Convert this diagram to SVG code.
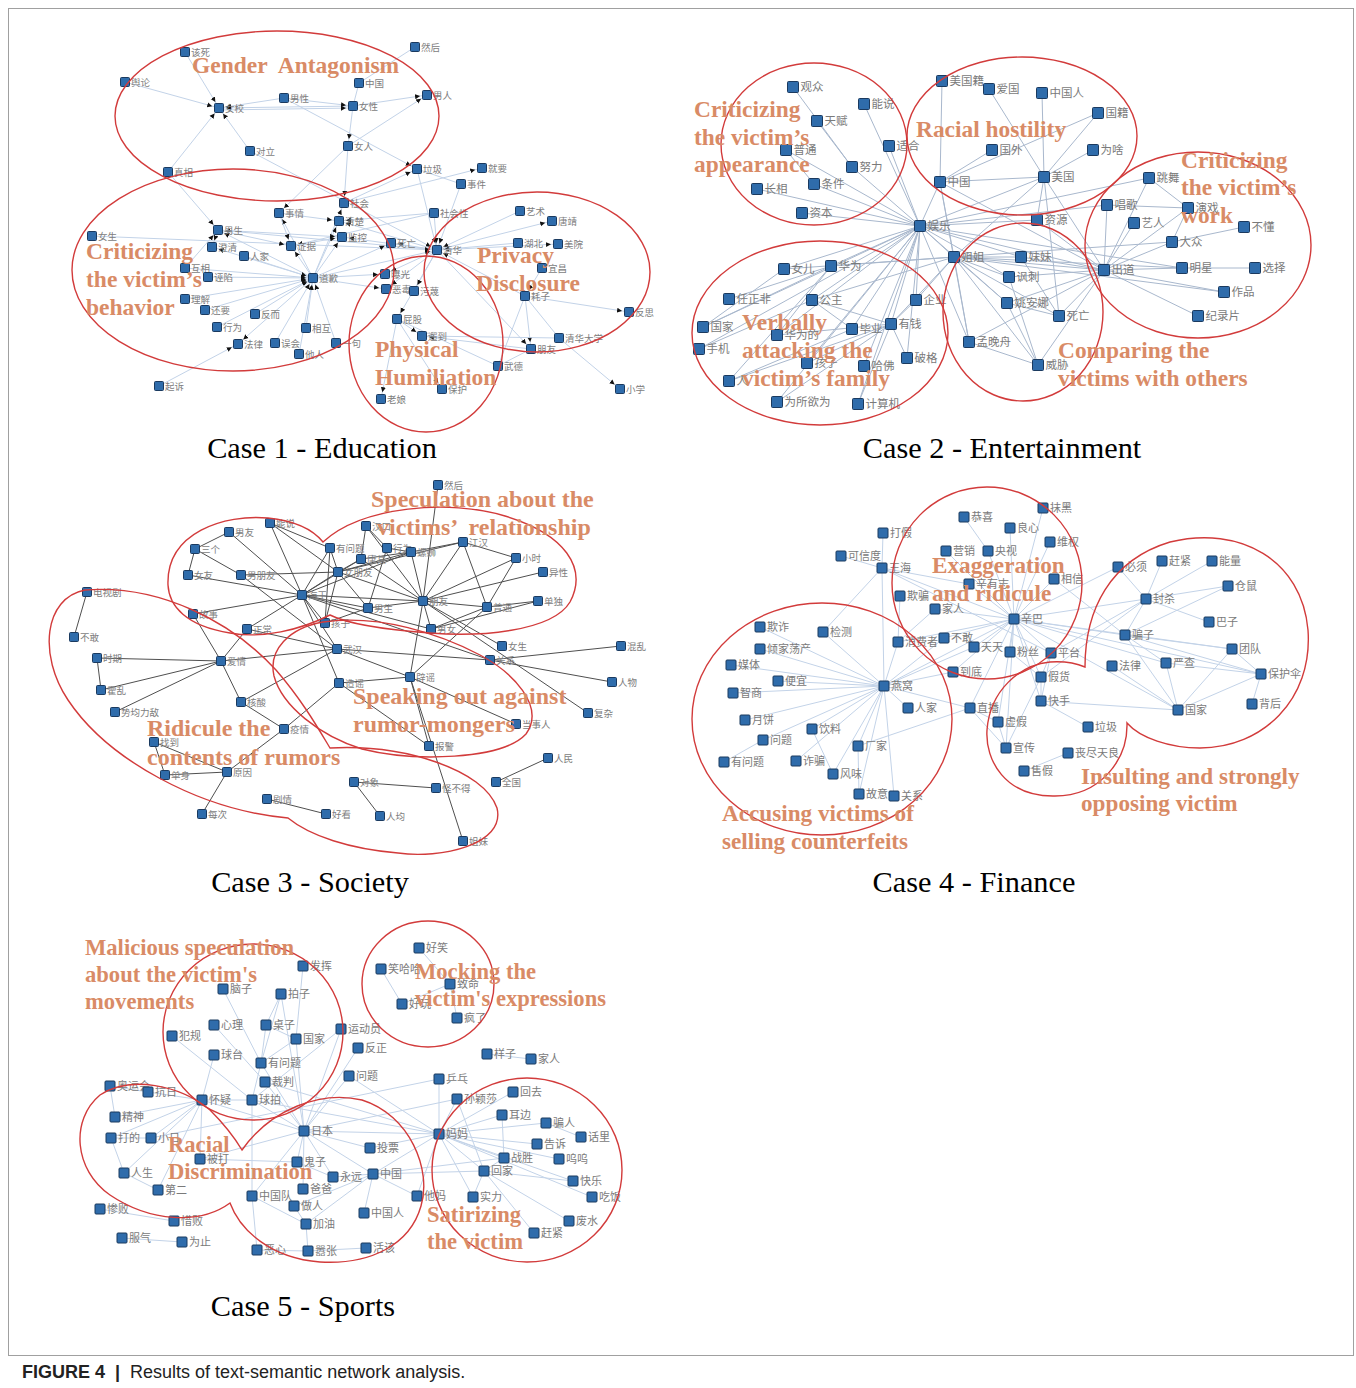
<svg xmlns="http://www.w3.org/2000/svg" xmlns:xlink="http://www.w3.org/1999/xlink" width="1356" height="1388" viewBox="0 0 1356 1388">
<style>
.frame{fill:none;stroke:#a0a0a0;stroke-width:1}
.ring{fill:none;stroke:#d23b3b;stroke-width:1.4}
.lab{font-family:"Liberation Serif","Times New Roman",serif;font-weight:bold;font-size:24px;fill:#d98b66}
.g1 .lab{font-size:23.5px}
.g2 .lab{font-size:23.4px}
.g3 .lab{font-size:24px}
.g4 .lab{font-size:23.2px}
.g5 .lab{font-size:22.6px}
.ttl{font-family:"Liberation Serif","Times New Roman",serif;font-size:30.3px;fill:#000;text-anchor:middle}
.cap{font-family:"Liberation Sans",Arial,sans-serif;font-size:18px;fill:#222}
.t1 text,.t3 text{font-family:"Noto Sans CJK SC","Noto Sans",sans-serif;font-size:9.5px;fill:#7d7d7d}
.t2 text{font-family:"Noto Sans CJK SC","Noto Sans",sans-serif;font-size:11.5px;fill:#7a7a7a}
.t4 text,.t5 text{font-family:"Noto Sans CJK SC","Noto Sans",sans-serif;font-size:11px;fill:#7a7a7a}
.e1 line,.e4 line,.e5 line{stroke:#c3d3e8;stroke-width:1}
.e2 line{stroke:#a9b8cd;stroke-width:1}
.e3 line{stroke:#4f4f4f;stroke-width:1}
</style>
<defs>
<rect id="s9" x="-4.5" y="-4.5" width="9" height="9" rx="1" fill="#2f6cab" stroke="#1b3a5f" stroke-width="1"/>
<rect id="s10" x="-5" y="-5" width="10" height="10" rx="1" fill="#2f6cab" stroke="#1b3a5f" stroke-width="1"/>
<rect id="s11" x="-5.5" y="-5.5" width="11" height="11" rx="1" fill="#2f6cab" stroke="#1b3a5f" stroke-width="1"/>
<marker id="ah" viewBox="0 0 14 8" refX="12" refY="4" markerWidth="14" markerHeight="8" markerUnits="userSpaceOnUse" orient="auto"><path d="M0,1.5 L5,4 L0,6.5 Z" fill="#111"/></marker>
</defs>
<rect width="1356" height="1388" fill="#fff"/>
<rect class="frame" x="8.5" y="8.5" width="1345" height="1347"/>

<!-- ================= CASE 1 ================= -->
<g id="edges-c1" class="e1">
<line x1="185" y1="52" x2="219" y2="108" marker-end="url(#ah)"/>
<line x1="125" y1="82" x2="219" y2="108" marker-end="url(#ah)"/>
<line x1="284" y1="98" x2="219" y2="108" marker-end="url(#ah)"/>
<line x1="353" y1="106" x2="219" y2="108" marker-end="url(#ah)"/>
<line x1="219" y1="110" x2="353" y2="108" marker-end="url(#ah)"/>
<line x1="284" y1="98" x2="353" y2="106" marker-end="url(#ah)"/>
<line x1="359" y1="83" x2="353" y2="106"/>
<line x1="353" y1="106" x2="427" y2="95" marker-end="url(#ah)"/>
<line x1="348" y1="146" x2="427" y2="95" marker-end="url(#ah)"/>
<line x1="353" y1="106" x2="348" y2="146" marker-end="url(#ah)"/>
<line x1="250" y1="151" x2="219" y2="108" marker-end="url(#ah)"/>
<line x1="168" y1="172" x2="219" y2="108" marker-end="url(#ah)"/>
<line x1="284" y1="98" x2="417" y2="169" marker-end="url(#ah)"/>
<line x1="250" y1="151" x2="437" y2="250" marker-end="url(#ah)"/>
<line x1="348" y1="146" x2="279" y2="213" marker-end="url(#ah)"/>
<line x1="348" y1="146" x2="344" y2="203" marker-end="url(#ah)"/>
<line x1="168" y1="172" x2="218" y2="230" marker-end="url(#ah)"/>
<line x1="415" y1="47" x2="359" y2="83"/>
<line x1="417" y1="169" x2="437" y2="250" marker-end="url(#ah)"/>
<line x1="344" y1="203" x2="417" y2="169" marker-end="url(#ah)"/>
<line x1="344" y1="203" x2="482" y2="168" marker-end="url(#ah)"/>
<line x1="417" y1="169" x2="461" y2="184"/>
<line x1="461" y1="184" x2="437" y2="250" marker-end="url(#ah)"/>
<line x1="434" y1="213" x2="437" y2="250" marker-end="url(#ah)"/>
<line x1="434" y1="213" x2="339" y2="221" marker-end="url(#ah)"/>
<line x1="434" y1="213" x2="291" y2="246" marker-end="url(#ah)"/>
<line x1="520" y1="211" x2="437" y2="250" marker-end="url(#ah)"/>
<line x1="437" y1="250" x2="552" y2="221" marker-end="url(#ah)"/>
<line x1="518" y1="243" x2="437" y2="250" marker-end="url(#ah)"/>
<line x1="437" y1="250" x2="558" y2="244" marker-end="url(#ah)"/>
<line x1="525" y1="296" x2="437" y2="250" marker-end="url(#ah)"/>
<line x1="525" y1="296" x2="629" y2="312" marker-end="url(#ah)"/>
<line x1="525" y1="296" x2="531" y2="349" marker-end="url(#ah)"/>
<line x1="525" y1="296" x2="559" y2="338"/>
<line x1="525" y1="296" x2="498" y2="366"/>
<line x1="542" y1="268" x2="525" y2="296" marker-end="url(#ah)"/>
<line x1="531" y1="349" x2="422" y2="336" marker-end="url(#ah)"/>
<line x1="422" y1="336" x2="559" y2="338"/>
<line x1="559" y1="338" x2="620" y2="389" marker-end="url(#ah)"/>
<line x1="531" y1="349" x2="498" y2="366"/>
<line x1="397" y1="319" x2="498" y2="366"/>
<line x1="397" y1="319" x2="442" y2="389" marker-end="url(#ah)"/>
<line x1="397" y1="319" x2="381" y2="399" marker-end="url(#ah)"/>
<line x1="437" y1="250" x2="397" y2="319" marker-end="url(#ah)"/>
<line x1="437" y1="250" x2="414" y2="291" marker-end="url(#ah)"/>
<line x1="437" y1="250" x2="385" y2="274" marker-end="url(#ah)"/>
<line x1="437" y1="250" x2="386" y2="289" marker-end="url(#ah)"/>
<line x1="437" y1="250" x2="391" y2="243" marker-end="url(#ah)"/>
<line x1="437" y1="250" x2="342" y2="237" marker-end="url(#ah)"/>
<line x1="437" y1="250" x2="339" y2="221" marker-end="url(#ah)"/>
<line x1="437" y1="250" x2="218" y2="230" marker-end="url(#ah)"/>
<line x1="92" y1="236" x2="437" y2="250" marker-end="url(#ah)"/>
<line x1="437" y1="250" x2="531" y2="349" marker-end="url(#ah)"/>
<line x1="313" y1="278" x2="218" y2="230" marker-end="url(#ah)"/>
<line x1="313" y1="278" x2="212" y2="247" marker-end="url(#ah)"/>
<line x1="244" y1="256" x2="313" y2="278" marker-end="url(#ah)"/>
<line x1="313" y1="278" x2="291" y2="246" marker-end="url(#ah)"/>
<line x1="185" y1="268" x2="313" y2="278" marker-end="url(#ah)"/>
<line x1="208" y1="277" x2="313" y2="278" marker-end="url(#ah)"/>
<line x1="185" y1="299" x2="313" y2="278" marker-end="url(#ah)"/>
<line x1="205" y1="310" x2="313" y2="278" marker-end="url(#ah)"/>
<line x1="255" y1="314" x2="313" y2="278" marker-end="url(#ah)"/>
<line x1="217" y1="327" x2="313" y2="278" marker-end="url(#ah)"/>
<line x1="313" y1="278" x2="238" y2="344" marker-end="url(#ah)"/>
<line x1="275" y1="343" x2="313" y2="278" marker-end="url(#ah)"/>
<line x1="306" y1="328" x2="313" y2="278" marker-end="url(#ah)"/>
<line x1="299" y1="354" x2="313" y2="278" marker-end="url(#ah)"/>
<line x1="336" y1="343" x2="313" y2="278" marker-end="url(#ah)"/>
<line x1="313" y1="278" x2="342" y2="237" marker-end="url(#ah)"/>
<line x1="313" y1="278" x2="339" y2="221" marker-end="url(#ah)"/>
<line x1="313" y1="278" x2="279" y2="213" marker-end="url(#ah)"/>
<line x1="313" y1="278" x2="391" y2="243" marker-end="url(#ah)"/>
<line x1="313" y1="278" x2="437" y2="250" marker-end="url(#ah)"/>
<line x1="313" y1="278" x2="385" y2="274" marker-end="url(#ah)"/>
<line x1="313" y1="278" x2="386" y2="289" marker-end="url(#ah)"/>
<line x1="313" y1="278" x2="344" y2="203" marker-end="url(#ah)"/>
<line x1="159" y1="386" x2="238" y2="344" marker-end="url(#ah)"/>
<line x1="218" y1="230" x2="212" y2="247" marker-end="url(#ah)"/>
<line x1="218" y1="230" x2="291" y2="246" marker-end="url(#ah)"/>
<line x1="218" y1="230" x2="342" y2="237" marker-end="url(#ah)"/>
<line x1="279" y1="213" x2="339" y2="221" marker-end="url(#ah)"/>
<line x1="279" y1="213" x2="291" y2="246" marker-end="url(#ah)"/>
<line x1="291" y1="246" x2="342" y2="237" marker-end="url(#ah)"/>
<line x1="185" y1="268" x2="218" y2="230" marker-end="url(#ah)"/>
<line x1="397" y1="319" x2="422" y2="336" marker-end="url(#ah)"/>
</g>
<g id="nodes-c1" class="t1">
<g id="c1-01" transform="translate(185,52)"><use href="#s9"/><text x="6" y="3.5">该死</text></g>
<g id="c1-02" transform="translate(125,82)"><use href="#s9"/><text x="6" y="3.5">舆论</text></g>
<g id="c1-03" transform="translate(219,108)"><use href="#s9"/><text x="6" y="3.5">女校</text></g>
<g id="c1-04" transform="translate(284,98)"><use href="#s9"/><text x="6" y="3.5">男性</text></g>
<g id="c1-05" transform="translate(353,106)"><use href="#s9"/><text x="6" y="3.5">女性</text></g>
<g id="c1-06" transform="translate(359,83)"><use href="#s9"/><text x="6" y="3.5">中国</text></g>
<g id="c1-07" transform="translate(348,146)"><use href="#s9"/><text x="6" y="3.5">女人</text></g>
<g id="c1-08" transform="translate(250,151)"><use href="#s9"/><text x="6" y="3.5">对立</text></g>
<g id="c1-09" transform="translate(168,172)"><use href="#s9"/><text x="6" y="3.5">真相</text></g>
<g id="c1-10" transform="translate(344,203)"><use href="#s9"/><text x="6" y="3.5">社会</text></g>
<g id="c1-11" transform="translate(279,213)"><use href="#s9"/><text x="6" y="3.5">事情</text></g>
<g id="c1-12" transform="translate(339,221)"><use href="#s9"/><text x="6" y="3.5">清楚</text></g>
<g id="c1-13" transform="translate(415,47)"><use href="#s9"/><text x="6" y="3.5">然后</text></g>
<g id="c1-14" transform="translate(427,95)"><use href="#s9"/><text x="6" y="3.5">男人</text></g>
<g id="c1-15" transform="translate(417,169)"><use href="#s9"/><text x="6" y="3.5">垃圾</text></g>
<g id="c1-16" transform="translate(482,168)"><use href="#s9"/><text x="6" y="3.5">就要</text></g>
<g id="c1-17" transform="translate(461,184)"><use href="#s9"/><text x="6" y="3.5">事件</text></g>
<g id="c1-18" transform="translate(434,213)"><use href="#s9"/><text x="6" y="3.5">社会性</text></g>
<g id="c1-19" transform="translate(520,211)"><use href="#s9"/><text x="6" y="3.5">艺术</text></g>
<g id="c1-20" transform="translate(552,221)"><use href="#s9"/><text x="6" y="3.5">唐靖</text></g>
<g id="c1-21" transform="translate(92,236)"><use href="#s9"/><text x="6" y="3.5">女生</text></g>
<g id="c1-22" transform="translate(218,230)"><use href="#s9"/><text x="6" y="3.5">男生</text></g>
<g id="c1-23" transform="translate(212,247)"><use href="#s9"/><text x="6" y="3.5">澄清</text></g>
<g id="c1-24" transform="translate(244,256)"><use href="#s9"/><text x="6" y="3.5">人家</text></g>
<g id="c1-25" transform="translate(291,246)"><use href="#s9"/><text x="6" y="3.5">证据</text></g>
<g id="c1-26" transform="translate(342,237)"><use href="#s9"/><text x="6" y="3.5">监控</text></g>
<g id="c1-27" transform="translate(185,268)"><use href="#s9"/><text x="6" y="3.5">互相</text></g>
<g id="c1-28" transform="translate(208,277)"><use href="#s9"/><text x="6" y="3.5">诬陷</text></g>
<g id="c1-29" transform="translate(313,278)"><use href="#s9"/><text x="6" y="3.5">道歉</text></g>
<g id="c1-30" transform="translate(185,299)"><use href="#s9"/><text x="6" y="3.5">理解</text></g>
<g id="c1-31" transform="translate(205,310)"><use href="#s9"/><text x="6" y="3.5">还要</text></g>
<g id="c1-32" transform="translate(255,314)"><use href="#s9"/><text x="6" y="3.5">反而</text></g>
<g id="c1-33" transform="translate(217,327)"><use href="#s9"/><text x="6" y="3.5">行为</text></g>
<g id="c1-34" transform="translate(306,328)"><use href="#s9"/><text x="6" y="3.5">相互</text></g>
<g id="c1-35" transform="translate(238,344)"><use href="#s9"/><text x="6" y="3.5">法律</text></g>
<g id="c1-36" transform="translate(275,343)"><use href="#s9"/><text x="6" y="3.5">误会</text></g>
<g id="c1-37" transform="translate(299,354)"><use href="#s9"/><text x="6" y="3.5">他人</text></g>
<g id="c1-38" transform="translate(336,343)"><use href="#s9"/><text x="6" y="3.5">一句</text></g>
<g id="c1-39" transform="translate(159,386)"><use href="#s9"/><text x="6" y="3.5">起诉</text></g>
<g id="c1-40" transform="translate(391,243)"><use href="#s9"/><text x="6" y="3.5">死亡</text></g>
<g id="c1-41" transform="translate(437,250)"><use href="#s9"/><text x="6" y="3.5">清华</text></g>
<g id="c1-42" transform="translate(518,243)"><use href="#s9"/><text x="6" y="3.5">湖北</text></g>
<g id="c1-43" transform="translate(558,244)"><use href="#s9"/><text x="6" y="3.5">美院</text></g>
<g id="c1-44" transform="translate(542,268)"><use href="#s9"/><text x="6" y="3.5">宜昌</text></g>
<g id="c1-45" transform="translate(385,274)"><use href="#s9"/><text x="6" y="3.5">曝光</text></g>
<g id="c1-46" transform="translate(386,289)"><use href="#s9"/><text x="6" y="3.5">恶毒</text></g>
<g id="c1-47" transform="translate(414,291)"><use href="#s9"/><text x="6" y="3.5">污蔑</text></g>
<g id="c1-48" transform="translate(525,296)"><use href="#s9"/><text x="6" y="3.5">耗子</text></g>
<g id="c1-49" transform="translate(629,312)"><use href="#s9"/><text x="6" y="3.5">反思</text></g>
<g id="c1-50" transform="translate(397,319)"><use href="#s9"/><text x="6" y="3.5">屁股</text></g>
<g id="c1-51" transform="translate(422,336)"><use href="#s9"/><text x="6" y="3.5">遛到</text></g>
<g id="c1-52" transform="translate(559,338)"><use href="#s9"/><text x="6" y="3.5">清华大学</text></g>
<g id="c1-53" transform="translate(531,349)"><use href="#s9"/><text x="6" y="3.5">朋友</text></g>
<g id="c1-54" transform="translate(498,366)"><use href="#s9"/><text x="6" y="3.5">武德</text></g>
<g id="c1-55" transform="translate(442,389)"><use href="#s9"/><text x="6" y="3.5">保护</text></g>
<g id="c1-56" transform="translate(381,399)"><use href="#s9"/><text x="6" y="3.5">老娘</text></g>
<g id="c1-57" transform="translate(620,389)"><use href="#s9"/><text x="6" y="3.5">小学</text></g>
</g>
<g id="groups-c1" class="g1">
<ellipse class="ring" cx="277" cy="116" rx="162" ry="85"/>
<ellipse class="ring" cx="233" cy="270" rx="161" ry="101"/>
<ellipse class="ring" cx="426" cy="344" rx="77" ry="88"/>
<ellipse class="ring" cx="537" cy="272" rx="113" ry="80"/>
<text class="lab" x="192" y="73" xml:space="preserve">Gender  Antagonism</text>
<text class="lab" x="86" y="259">Criticizing</text>
<text class="lab" x="86" y="287">the victim’s</text>
<text class="lab" x="86" y="315">behavior</text>
<text class="lab" x="375" y="357">Physical</text>
<text class="lab" x="375" y="385">Humiliation</text>
<text class="lab" x="477" y="263">Privacy</text>
<text class="lab" x="476" y="291">Disclosure</text>
</g>
<text class="ttl" x="322" y="458">Case 1 - Education</text>

<!-- ================= CASE 2 ================= -->
<g id="edges-c2" class="e2">
<line x1="793" y1="87" x2="852" y2="167"/>
<line x1="817" y1="121" x2="852" y2="167"/>
<line x1="786" y1="150" x2="920" y2="226"/>
<line x1="786" y1="150" x2="814" y2="184"/>
<line x1="864" y1="104" x2="920" y2="226"/>
<line x1="889" y1="146" x2="920" y2="226"/>
<line x1="852" y1="167" x2="920" y2="226"/>
<line x1="814" y1="184" x2="920" y2="226"/>
<line x1="757" y1="189" x2="920" y2="226"/>
<line x1="802" y1="213" x2="920" y2="226"/>
<line x1="942" y1="81" x2="940" y2="182"/>
<line x1="989" y1="89" x2="1044" y2="177"/>
<line x1="1042" y1="93" x2="1044" y2="177"/>
<line x1="1098" y1="113" x2="1044" y2="177"/>
<line x1="1098" y1="113" x2="940" y2="182"/>
<line x1="1093" y1="150" x2="1044" y2="177"/>
<line x1="992" y1="150" x2="940" y2="182"/>
<line x1="940" y1="182" x2="920" y2="226"/>
<line x1="940" y1="182" x2="954" y2="257"/>
<line x1="940" y1="182" x2="969" y2="342"/>
<line x1="940" y1="182" x2="1044" y2="177"/>
<line x1="940" y1="182" x2="1104" y2="270"/>
<line x1="1044" y1="177" x2="920" y2="226"/>
<line x1="1044" y1="177" x2="954" y2="257"/>
<line x1="1044" y1="177" x2="1104" y2="270"/>
<line x1="1044" y1="177" x2="1059" y2="316"/>
<line x1="1044" y1="177" x2="1037" y2="220"/>
<line x1="920" y1="226" x2="784" y2="269"/>
<line x1="920" y1="226" x2="831" y2="266"/>
<line x1="920" y1="226" x2="812" y2="300"/>
<line x1="920" y1="226" x2="916" y2="300"/>
<line x1="920" y1="226" x2="852" y2="329"/>
<line x1="920" y1="226" x2="891" y2="324"/>
<line x1="920" y1="226" x2="864" y2="366"/>
<line x1="920" y1="226" x2="807" y2="363"/>
<line x1="920" y1="226" x2="858" y2="404"/>
<line x1="920" y1="226" x2="969" y2="342"/>
<line x1="920" y1="226" x2="954" y2="257"/>
<line x1="920" y1="226" x2="1021" y2="257"/>
<line x1="920" y1="226" x2="1009" y2="277"/>
<line x1="920" y1="226" x2="1007" y2="303"/>
<line x1="920" y1="226" x2="1104" y2="270"/>
<line x1="920" y1="226" x2="1037" y2="220"/>
<line x1="920" y1="226" x2="1149" y2="178"/>
<line x1="920" y1="226" x2="1107" y2="205"/>
<line x1="920" y1="226" x2="1182" y2="268"/>
<line x1="920" y1="226" x2="703" y2="327"/>
<line x1="920" y1="226" x2="777" y2="335"/>
<line x1="920" y1="226" x2="777" y2="402"/>
<line x1="920" y1="226" x2="907" y2="358"/>
<line x1="920" y1="226" x2="699" y2="349"/>
<line x1="954" y1="257" x2="1021" y2="257"/>
<line x1="954" y1="257" x2="1009" y2="277"/>
<line x1="954" y1="257" x2="1007" y2="303"/>
<line x1="954" y1="257" x2="1059" y2="316"/>
<line x1="954" y1="257" x2="1038" y2="365"/>
<line x1="954" y1="257" x2="969" y2="342"/>
<line x1="954" y1="257" x2="1104" y2="270"/>
<line x1="954" y1="257" x2="1182" y2="268"/>
<line x1="954" y1="257" x2="831" y2="266"/>
<line x1="954" y1="257" x2="812" y2="300"/>
<line x1="954" y1="257" x2="891" y2="324"/>
<line x1="954" y1="257" x2="916" y2="300"/>
<line x1="954" y1="257" x2="784" y2="269"/>
<line x1="954" y1="257" x2="1172" y2="242"/>
<line x1="954" y1="257" x2="1224" y2="292"/>
<line x1="831" y1="266" x2="729" y2="299"/>
<line x1="831" y1="266" x2="703" y2="327"/>
<line x1="831" y1="266" x2="777" y2="335"/>
<line x1="831" y1="266" x2="729" y2="381"/>
<line x1="812" y1="300" x2="699" y2="349"/>
<line x1="812" y1="300" x2="852" y2="329"/>
<line x1="812" y1="300" x2="891" y2="324"/>
<line x1="784" y1="269" x2="703" y2="327"/>
<line x1="777" y1="335" x2="891" y2="324"/>
<line x1="807" y1="363" x2="891" y2="324"/>
<line x1="729" y1="381" x2="852" y2="329"/>
<line x1="729" y1="381" x2="891" y2="324"/>
<line x1="777" y1="402" x2="891" y2="324"/>
<line x1="858" y1="404" x2="891" y2="324"/>
<line x1="907" y1="358" x2="891" y2="324"/>
<line x1="891" y1="324" x2="916" y2="300"/>
<line x1="1104" y1="270" x2="1149" y2="178"/>
<line x1="1104" y1="270" x2="1107" y2="205"/>
<line x1="1104" y1="270" x2="1134" y2="223"/>
<line x1="1104" y1="270" x2="1172" y2="242"/>
<line x1="1104" y1="270" x2="1182" y2="268"/>
<line x1="1104" y1="270" x2="1224" y2="292"/>
<line x1="1104" y1="270" x2="1198" y2="316"/>
<line x1="1104" y1="270" x2="1188" y2="208"/>
<line x1="1104" y1="270" x2="1059" y2="316"/>
<line x1="1104" y1="270" x2="1038" y2="365"/>
<line x1="1104" y1="270" x2="1007" y2="303"/>
<line x1="1104" y1="270" x2="1009" y2="277"/>
<line x1="1104" y1="270" x2="1021" y2="257"/>
<line x1="1104" y1="270" x2="1037" y2="220"/>
<line x1="1104" y1="270" x2="969" y2="342"/>
<line x1="1149" y1="178" x2="1188" y2="208"/>
<line x1="1107" y1="205" x2="1188" y2="208"/>
<line x1="1172" y1="242" x2="1244" y2="227"/>
<line x1="1182" y1="268" x2="1255" y2="268"/>
<line x1="1188" y1="208" x2="1172" y2="242"/>
<line x1="969" y1="342" x2="1038" y2="365"/>
<line x1="1007" y1="303" x2="1038" y2="365"/>
<line x1="1009" y1="277" x2="1038" y2="365"/>
<line x1="1021" y1="257" x2="1059" y2="316"/>
<line x1="1007" y1="303" x2="1059" y2="316"/>
</g>
<g id="nodes-c2" class="t2">
<g id="c2-01" transform="translate(793,87)"><use href="#s11"/><text x="7.5" y="4">观众</text></g>
<g id="c2-02" transform="translate(864,104)"><use href="#s11"/><text x="7.5" y="4">能说</text></g>
<g id="c2-03" transform="translate(817,121)"><use href="#s11"/><text x="7.5" y="4">天赋</text></g>
<g id="c2-04" transform="translate(786,150)"><use href="#s11"/><text x="7.5" y="4">普通</text></g>
<g id="c2-05" transform="translate(889,146)"><use href="#s11"/><text x="7.5" y="4">适合</text></g>
<g id="c2-06" transform="translate(852,167)"><use href="#s11"/><text x="7.5" y="4">努力</text></g>
<g id="c2-07" transform="translate(814,184)"><use href="#s11"/><text x="7.5" y="4">条件</text></g>
<g id="c2-08" transform="translate(757,189)"><use href="#s11"/><text x="7.5" y="4">长相</text></g>
<g id="c2-09" transform="translate(802,213)"><use href="#s11"/><text x="7.5" y="4">资本</text></g>
<g id="c2-10" transform="translate(942,81)"><use href="#s11"/><text x="7.5" y="4">美国籍</text></g>
<g id="c2-11" transform="translate(989,89)"><use href="#s11"/><text x="7.5" y="4">爱国</text></g>
<g id="c2-12" transform="translate(992,150)"><use href="#s11"/><text x="7.5" y="4">国外</text></g>
<g id="c2-13" transform="translate(940,182)"><use href="#s11"/><text x="7.5" y="4">中国</text></g>
<g id="c2-14" transform="translate(920,226)"><use href="#s11"/><text x="7.5" y="4">娱乐</text></g>
<g id="c2-15" transform="translate(954,257)"><use href="#s11"/><text x="7.5" y="4">姐姐</text></g>
<g id="c2-16" transform="translate(784,269)"><use href="#s11"/><text x="7.5" y="4">女儿</text></g>
<g id="c2-17" transform="translate(831,266)"><use href="#s11"/><text x="7.5" y="4">华为</text></g>
<g id="c2-18" transform="translate(729,299)"><use href="#s11"/><text x="7.5" y="4">任正非</text></g>
<g id="c2-19" transform="translate(812,300)"><use href="#s11"/><text x="7.5" y="4">公主</text></g>
<g id="c2-20" transform="translate(916,300)"><use href="#s11"/><text x="7.5" y="4">企业</text></g>
<g id="c2-21" transform="translate(703,327)"><use href="#s11"/><text x="7.5" y="4">国家</text></g>
<g id="c2-22" transform="translate(777,335)"><use href="#s11"/><text x="7.5" y="4">华为的</text></g>
<g id="c2-23" transform="translate(852,329)"><use href="#s11"/><text x="7.5" y="4">毕业</text></g>
<g id="c2-24" transform="translate(891,324)"><use href="#s11"/><text x="7.5" y="4">有钱</text></g>
<g id="c2-25" transform="translate(699,349)"><use href="#s11"/><text x="7.5" y="4">手机</text></g>
<g id="c2-26" transform="translate(807,363)"><use href="#s11"/><text x="7.5" y="4">孩子</text></g>
<g id="c2-27" transform="translate(864,366)"><use href="#s11"/><text x="7.5" y="4">哈佛</text></g>
<g id="c2-28" transform="translate(907,358)"><use href="#s11"/><text x="7.5" y="4">破格</text></g>
<g id="c2-29" transform="translate(729,381)"><use href="#s11"/><text x="7.5" y="4">人</text></g>
<g id="c2-30" transform="translate(777,402)"><use href="#s11"/><text x="7.5" y="4">为所欲为</text></g>
<g id="c2-31" transform="translate(858,404)"><use href="#s11"/><text x="7.5" y="4">计算机</text></g>
<g id="c2-32" transform="translate(969,342)"><use href="#s11"/><text x="7.5" y="4">孟晚舟</text></g>
<g id="c2-33" transform="translate(1042,93)"><use href="#s11"/><text x="7.5" y="4">中国人</text></g>
<g id="c2-34" transform="translate(1098,113)"><use href="#s11"/><text x="7.5" y="4">国籍</text></g>
<g id="c2-35" transform="translate(1093,150)"><use href="#s11"/><text x="7.5" y="4">为啥</text></g>
<g id="c2-36" transform="translate(1044,177)"><use href="#s11"/><text x="7.5" y="4">美国</text></g>
<g id="c2-37" transform="translate(1149,178)"><use href="#s11"/><text x="7.5" y="4">跳舞</text></g>
<g id="c2-38" transform="translate(1107,205)"><use href="#s11"/><text x="7.5" y="4">唱歌</text></g>
<g id="c2-39" transform="translate(1188,208)"><use href="#s11"/><text x="7.5" y="4">演戏</text></g>
<g id="c2-40" transform="translate(1037,220)"><use href="#s11"/><text x="7.5" y="4">资源</text></g>
<g id="c2-41" transform="translate(1134,223)"><use href="#s11"/><text x="7.5" y="4">艺人</text></g>
<g id="c2-42" transform="translate(1244,227)"><use href="#s11"/><text x="7.5" y="4">不懂</text></g>
<g id="c2-43" transform="translate(1172,242)"><use href="#s11"/><text x="7.5" y="4">大众</text></g>
<g id="c2-44" transform="translate(1021,257)"><use href="#s11"/><text x="7.5" y="4">妹妹</text></g>
<g id="c2-45" transform="translate(1009,277)"><use href="#s11"/><text x="7.5" y="4">讽刺</text></g>
<g id="c2-46" transform="translate(1104,270)"><use href="#s11"/><text x="7.5" y="4">出道</text></g>
<g id="c2-47" transform="translate(1182,268)"><use href="#s11"/><text x="7.5" y="4">明星</text></g>
<g id="c2-48" transform="translate(1255,268)"><use href="#s11"/><text x="7.5" y="4">选择</text></g>
<g id="c2-49" transform="translate(1007,303)"><use href="#s11"/><text x="7.5" y="4">姚安娜</text></g>
<g id="c2-50" transform="translate(1224,292)"><use href="#s11"/><text x="7.5" y="4">作品</text></g>
<g id="c2-51" transform="translate(1059,316)"><use href="#s11"/><text x="7.5" y="4">死亡</text></g>
<g id="c2-52" transform="translate(1198,316)"><use href="#s11"/><text x="7.5" y="4">纪录片</text></g>
<g id="c2-53" transform="translate(1038,365)"><use href="#s11"/><text x="7.5" y="4">威胁</text></g>
</g>
<g id="groups-c2" class="g2">
<ellipse class="ring" cx="814" cy="144" rx="93" ry="81"/>
<ellipse class="ring" cx="1022" cy="136" rx="115" ry="79"/>
<ellipse class="ring" cx="1198" cy="245" rx="113" ry="93"/>
<ellipse class="ring" cx="1023" cy="312" rx="80" ry="89"/>
<ellipse class="ring" cx="820" cy="333" rx="128" ry="92"/>
<text class="lab" x="694" y="117">Criticizing</text>
<text class="lab" x="694" y="145">the victim’s</text>
<text class="lab" x="694" y="172">appearance</text>
<text class="lab" x="916" y="137">Racial hostility</text>
<text class="lab" x="1181" y="168">Criticizing</text>
<text class="lab" x="1181" y="195">the victim’s</text>
<text class="lab" x="1181" y="223">work</text>
<text class="lab" x="1058" y="358">Comparing the</text>
<text class="lab" x="1058" y="386">victims with others</text>
<text class="lab" x="742" y="330">Verbally</text>
<text class="lab" x="742" y="358">attacking the</text>
<text class="lab" x="742" y="386">victim’s family</text>
</g>
<text class="ttl" x="1002" y="458">Case 2 - Entertainment</text>

<!-- ================= CASE 3 ================= -->
<g id="edges-c3" class="e3">
<line x1="270" y1="523" x2="330" y2="548"/>
<line x1="270" y1="523" x2="302" y2="595"/>
<line x1="270" y1="523" x2="338" y2="572"/>
<line x1="229" y1="532" x2="195" y2="549"/>
<line x1="229" y1="532" x2="302" y2="595"/>
<line x1="195" y1="549" x2="188" y2="575"/>
<line x1="195" y1="549" x2="241" y2="575"/>
<line x1="188" y1="575" x2="302" y2="595"/>
<line x1="241" y1="575" x2="338" y2="572"/>
<line x1="241" y1="575" x2="337" y2="649"/>
<line x1="302" y1="595" x2="193" y2="614"/>
<line x1="302" y1="595" x2="330" y2="548"/>
<line x1="302" y1="595" x2="338" y2="572"/>
<line x1="302" y1="595" x2="325" y2="623"/>
<line x1="302" y1="595" x2="337" y2="649"/>
<line x1="302" y1="595" x2="247" y2="629"/>
<line x1="302" y1="595" x2="423" y2="601"/>
<line x1="302" y1="595" x2="368" y2="608"/>
<line x1="302" y1="595" x2="339" y2="683"/>
<line x1="302" y1="595" x2="431" y2="629"/>
<line x1="302" y1="595" x2="490" y2="660"/>
<line x1="302" y1="595" x2="361" y2="559"/>
<line x1="302" y1="595" x2="411" y2="552"/>
<line x1="330" y1="548" x2="338" y2="572"/>
<line x1="330" y1="548" x2="325" y2="623"/>
<line x1="338" y1="572" x2="325" y2="623"/>
<line x1="338" y1="572" x2="368" y2="608"/>
<line x1="338" y1="572" x2="423" y2="601"/>
<line x1="338" y1="572" x2="361" y2="559"/>
<line x1="338" y1="572" x2="411" y2="552"/>
<line x1="338" y1="572" x2="463" y2="542"/>
<line x1="87" y1="592" x2="74" y2="637"/>
<line x1="97" y1="658" x2="101" y2="690"/>
<line x1="97" y1="658" x2="221" y2="661"/>
<line x1="101" y1="690" x2="221" y2="661"/>
<line x1="115" y1="712" x2="221" y2="661"/>
<line x1="193" y1="614" x2="221" y2="661"/>
<line x1="247" y1="629" x2="221" y2="661"/>
<line x1="247" y1="629" x2="337" y2="649"/>
<line x1="221" y1="661" x2="337" y2="649"/>
<line x1="221" y1="661" x2="241" y2="702"/>
<line x1="241" y1="702" x2="284" y2="729"/>
<line x1="284" y1="729" x2="227" y2="772"/>
<line x1="284" y1="729" x2="339" y2="683"/>
<line x1="241" y1="702" x2="337" y2="649"/>
<line x1="154" y1="742" x2="165" y2="775"/>
<line x1="154" y1="742" x2="227" y2="772"/>
<line x1="165" y1="775" x2="227" y2="772"/>
<line x1="227" y1="772" x2="202" y2="814"/>
<line x1="267" y1="799" x2="326" y2="814"/>
<line x1="354" y1="782" x2="436" y2="788"/>
<line x1="354" y1="782" x2="380" y2="816"/>
<line x1="548" y1="758" x2="496" y2="782"/>
<line x1="438" y1="485" x2="423" y2="601"/>
<line x1="366" y1="526" x2="387" y2="548"/>
<line x1="366" y1="526" x2="361" y2="559"/>
<line x1="366" y1="526" x2="423" y2="601"/>
<line x1="387" y1="548" x2="411" y2="552"/>
<line x1="387" y1="548" x2="368" y2="608"/>
<line x1="361" y1="559" x2="411" y2="552"/>
<line x1="361" y1="559" x2="423" y2="601"/>
<line x1="411" y1="552" x2="463" y2="542"/>
<line x1="411" y1="552" x2="423" y2="601"/>
<line x1="463" y1="542" x2="423" y2="601"/>
<line x1="463" y1="542" x2="487" y2="607"/>
<line x1="463" y1="542" x2="516" y2="558"/>
<line x1="516" y1="558" x2="487" y2="607"/>
<line x1="516" y1="558" x2="423" y2="601"/>
<line x1="543" y1="572" x2="423" y2="601"/>
<line x1="538" y1="601" x2="487" y2="607"/>
<line x1="538" y1="601" x2="431" y2="629"/>
<line x1="487" y1="607" x2="423" y2="601"/>
<line x1="487" y1="607" x2="431" y2="629"/>
<line x1="423" y1="601" x2="431" y2="629"/>
<line x1="423" y1="601" x2="410" y2="677"/>
<line x1="423" y1="601" x2="502" y2="646"/>
<line x1="423" y1="601" x2="368" y2="608"/>
<line x1="423" y1="601" x2="588" y2="713"/>
<line x1="368" y1="608" x2="325" y2="623"/>
<line x1="337" y1="649" x2="490" y2="660"/>
<line x1="337" y1="649" x2="410" y2="677"/>
<line x1="339" y1="683" x2="410" y2="677"/>
<line x1="410" y1="677" x2="463" y2="841"/>
<line x1="410" y1="677" x2="429" y2="746"/>
<line x1="410" y1="677" x2="516" y2="724"/>
<line x1="410" y1="677" x2="487" y2="607"/>
<line x1="339" y1="683" x2="429" y2="746"/>
<line x1="490" y1="660" x2="621" y2="646"/>
<line x1="490" y1="660" x2="612" y2="682"/>
</g>
<g id="nodes-c3" class="t3">
<g id="c3-01" transform="translate(270,523)"><use href="#s9"/><text x="6" y="3.5">能说</text></g>
<g id="c3-02" transform="translate(229,532)"><use href="#s9"/><text x="6" y="3.5">男友</text></g>
<g id="c3-03" transform="translate(195,549)"><use href="#s9"/><text x="6" y="3.5">三个</text></g>
<g id="c3-04" transform="translate(188,575)"><use href="#s9"/><text x="6" y="3.5">女友</text></g>
<g id="c3-05" transform="translate(241,575)"><use href="#s9"/><text x="6" y="3.5">男朋友</text></g>
<g id="c3-06" transform="translate(330,548)"><use href="#s9"/><text x="6" y="3.5">有问题</text></g>
<g id="c3-07" transform="translate(338,572)"><use href="#s9"/><text x="6" y="3.5">女朋友</text></g>
<g id="c3-08" transform="translate(302,595)"><use href="#s9"/><text x="6" y="3.5">海王</text></g>
<g id="c3-09" transform="translate(87,592)"><use href="#s9"/><text x="6" y="3.5">电视剧</text></g>
<g id="c3-10" transform="translate(193,614)"><use href="#s9"/><text x="6" y="3.5">故事</text></g>
<g id="c3-11" transform="translate(325,623)"><use href="#s9"/><text x="6" y="3.5">孩子</text></g>
<g id="c3-12" transform="translate(247,629)"><use href="#s9"/><text x="6" y="3.5">正常</text></g>
<g id="c3-13" transform="translate(74,637)"><use href="#s9"/><text x="6" y="3.5">不敢</text></g>
<g id="c3-14" transform="translate(337,649)"><use href="#s9"/><text x="6" y="3.5">武汉</text></g>
<g id="c3-15" transform="translate(97,658)"><use href="#s9"/><text x="6" y="3.5">时期</text></g>
<g id="c3-16" transform="translate(221,661)"><use href="#s9"/><text x="6" y="3.5">爱情</text></g>
<g id="c3-17" transform="translate(101,690)"><use href="#s9"/><text x="6" y="3.5">霍乱</text></g>
<g id="c3-18" transform="translate(241,702)"><use href="#s9"/><text x="6" y="3.5">核酸</text></g>
<g id="c3-19" transform="translate(115,712)"><use href="#s9"/><text x="6" y="3.5">势均力敌</text></g>
<g id="c3-20" transform="translate(339,683)"><use href="#s9"/><text x="6" y="3.5">造谣</text></g>
<g id="c3-21" transform="translate(284,729)"><use href="#s9"/><text x="6" y="3.5">疫情</text></g>
<g id="c3-22" transform="translate(154,742)"><use href="#s9"/><text x="6" y="3.5">找到</text></g>
<g id="c3-23" transform="translate(165,775)"><use href="#s9"/><text x="6" y="3.5">单身</text></g>
<g id="c3-24" transform="translate(227,772)"><use href="#s9"/><text x="6" y="3.5">原因</text></g>
<g id="c3-25" transform="translate(267,799)"><use href="#s9"/><text x="6" y="3.5">剧情</text></g>
<g id="c3-26" transform="translate(202,814)"><use href="#s9"/><text x="6" y="3.5">每次</text></g>
<g id="c3-27" transform="translate(326,814)"><use href="#s9"/><text x="6" y="3.5">好看</text></g>
<g id="c3-28" transform="translate(438,485)"><use href="#s9"/><text x="6" y="3.5">然后</text></g>
<g id="c3-29" transform="translate(366,526)"><use href="#s9"/><text x="6" y="3.5">汉口</text></g>
<g id="c3-30" transform="translate(387,548)"><use href="#s9"/><text x="6" y="3.5">行为</text></g>
<g id="c3-31" transform="translate(411,552)"><use href="#s9"/><text x="6" y="3.5">螺蛳</text></g>
<g id="c3-32" transform="translate(361,559)"><use href="#s9"/><text x="6" y="3.5">唐某</text></g>
<g id="c3-33" transform="translate(463,542)"><use href="#s9"/><text x="6" y="3.5">江汉</text></g>
<g id="c3-34" transform="translate(516,558)"><use href="#s9"/><text x="6" y="3.5">小时</text></g>
<g id="c3-35" transform="translate(543,572)"><use href="#s9"/><text x="6" y="3.5">异性</text></g>
<g id="c3-36" transform="translate(423,601)"><use href="#s9"/><text x="6" y="3.5">朋友</text></g>
<g id="c3-37" transform="translate(368,608)"><use href="#s9"/><text x="6" y="3.5">男生</text></g>
<g id="c3-38" transform="translate(487,607)"><use href="#s9"/><text x="6" y="3.5">普通</text></g>
<g id="c3-39" transform="translate(538,601)"><use href="#s9"/><text x="6" y="3.5">单独</text></g>
<g id="c3-40" transform="translate(431,629)"><use href="#s9"/><text x="6" y="3.5">男女</text></g>
<g id="c3-41" transform="translate(502,646)"><use href="#s9"/><text x="6" y="3.5">女生</text></g>
<g id="c3-42" transform="translate(621,646)"><use href="#s9"/><text x="6" y="3.5">混乱</text></g>
<g id="c3-43" transform="translate(490,660)"><use href="#s9"/><text x="6" y="3.5">关系</text></g>
<g id="c3-44" transform="translate(410,677)"><use href="#s9"/><text x="6" y="3.5">辟谣</text></g>
<g id="c3-45" transform="translate(612,682)"><use href="#s9"/><text x="6" y="3.5">人物</text></g>
<g id="c3-46" transform="translate(588,713)"><use href="#s9"/><text x="6" y="3.5">复杂</text></g>
<g id="c3-47" transform="translate(516,724)"><use href="#s9"/><text x="6" y="3.5">当事人</text></g>
<g id="c3-48" transform="translate(429,746)"><use href="#s9"/><text x="6" y="3.5">报警</text></g>
<g id="c3-49" transform="translate(548,758)"><use href="#s9"/><text x="6" y="3.5">人民</text></g>
<g id="c3-50" transform="translate(496,782)"><use href="#s9"/><text x="6" y="3.5">全国</text></g>
<g id="c3-51" transform="translate(354,782)"><use href="#s9"/><text x="6" y="3.5">对象</text></g>
<g id="c3-52" transform="translate(436,788)"><use href="#s9"/><text x="6" y="3.5">怪不得</text></g>
<g id="c3-53" transform="translate(380,816)"><use href="#s9"/><text x="6" y="3.5">人均</text></g>
<g id="c3-54" transform="translate(463,841)"><use href="#s9"/><text x="6" y="3.5">姐妹</text></g>
</g>
<g id="groups-c3" class="g3">
<path class="ring" d="M168,585 C166,532 225,514 268,518 C298,521 314,531 323,542 C362,506 450,499 505,516 C565,534 588,568 570,602 C552,632 478,637 430,633 C390,630 350,625 330,615 C300,630 262,639 230,633 C186,626 169,606 168,585 Z"/>
<path class="ring" d="M85,590 C160,584 232,622 276,670 C302,700 318,728 330,748 C405,744 484,770 497,808 C506,845 440,859 398,853 C350,849 310,836 288,818 C200,810 108,760 68,700 C38,655 44,598 85,590 Z"/>
<path class="ring" d="M323,622 C289,628 268,650 274,676 C282,706 320,736 362,749 C414,762 502,760 526,734 C546,706 512,672 480,655 C440,634 380,614 323,622 Z"/>
<text class="lab" x="371" y="507">Speculation about the</text>
<text class="lab" x="377" y="535" xml:space="preserve">victims’  relationship</text>
<text class="lab" x="147" y="736">Ridicule the</text>
<text class="lab" x="147" y="765">contents of rumors</text>
<text class="lab" x="353" y="704">Speaking out against</text>
<text class="lab" x="353" y="732">rumor-mongers</text>
</g>
<text class="ttl" x="310" y="892">Case 3 - Society</text>

<!-- ================= CASE 4 ================= -->
<g id="edges-c4" class="e4">
<line x1="964" y1="517" x2="988" y2="551"/>
<line x1="946" y1="551" x2="1014" y2="619"/>
<line x1="988" y1="551" x2="1014" y2="619"/>
<line x1="1010" y1="528" x2="1014" y2="619"/>
<line x1="1043" y1="508" x2="1014" y2="619"/>
<line x1="1050" y1="542" x2="1014" y2="619"/>
<line x1="1054" y1="579" x2="1014" y2="619"/>
<line x1="1054" y1="579" x2="1125" y2="635"/>
<line x1="969" y1="584" x2="1014" y2="619"/>
<line x1="883" y1="533" x2="882" y2="568"/>
<line x1="841" y1="556" x2="882" y2="568"/>
<line x1="882" y1="568" x2="1014" y2="619"/>
<line x1="882" y1="568" x2="884" y2="686"/>
<line x1="882" y1="568" x2="823" y2="632"/>
<line x1="882" y1="568" x2="969" y2="584"/>
<line x1="882" y1="568" x2="1051" y2="653"/>
<line x1="900" y1="596" x2="898" y2="642"/>
<line x1="935" y1="609" x2="898" y2="642"/>
<line x1="935" y1="609" x2="1014" y2="619"/>
<line x1="898" y1="642" x2="884" y2="686"/>
<line x1="898" y1="642" x2="1014" y2="619"/>
<line x1="944" y1="638" x2="1014" y2="619"/>
<line x1="944" y1="638" x2="884" y2="686"/>
<line x1="974" y1="647" x2="1014" y2="619"/>
<line x1="974" y1="647" x2="884" y2="686"/>
<line x1="953" y1="672" x2="1014" y2="619"/>
<line x1="953" y1="672" x2="884" y2="686"/>
<line x1="970" y1="708" x2="1014" y2="619"/>
<line x1="970" y1="708" x2="884" y2="686"/>
<line x1="908" y1="708" x2="884" y2="686"/>
<line x1="884" y1="686" x2="760" y2="627"/>
<line x1="884" y1="686" x2="760" y2="649"/>
<line x1="884" y1="686" x2="731" y2="665"/>
<line x1="884" y1="686" x2="778" y2="681"/>
<line x1="884" y1="686" x2="733" y2="693"/>
<line x1="884" y1="686" x2="745" y2="720"/>
<line x1="884" y1="686" x2="763" y2="740"/>
<line x1="763" y1="740" x2="724" y2="762"/>
<line x1="884" y1="686" x2="812" y2="729"/>
<line x1="884" y1="686" x2="796" y2="761"/>
<line x1="884" y1="686" x2="833" y2="774"/>
<line x1="884" y1="686" x2="858" y2="746"/>
<line x1="884" y1="686" x2="859" y2="794"/>
<line x1="884" y1="686" x2="894" y2="796"/>
<line x1="884" y1="686" x2="823" y2="632"/>
<line x1="812" y1="729" x2="833" y2="774"/>
<line x1="858" y1="746" x2="859" y2="794"/>
<line x1="858" y1="746" x2="970" y2="708"/>
<line x1="884" y1="686" x2="1014" y2="619"/>
<line x1="1014" y1="619" x2="1010" y2="652"/>
<line x1="1014" y1="619" x2="1051" y2="653"/>
<line x1="1014" y1="619" x2="1041" y2="677"/>
<line x1="1014" y1="619" x2="1041" y2="701"/>
<line x1="1014" y1="619" x2="1146" y2="599"/>
<line x1="1014" y1="619" x2="1125" y2="635"/>
<line x1="1014" y1="619" x2="1118" y2="567"/>
<line x1="1014" y1="619" x2="1232" y2="649"/>
<line x1="1014" y1="619" x2="1166" y2="663"/>
<line x1="1014" y1="619" x2="1261" y2="674"/>
<line x1="1014" y1="619" x2="1178" y2="710"/>
<line x1="1014" y1="619" x2="998" y2="722"/>
<line x1="1014" y1="619" x2="1006" y2="748"/>
<line x1="1146" y1="599" x2="1118" y2="567"/>
<line x1="1146" y1="599" x2="1162" y2="561"/>
<line x1="1146" y1="599" x2="1212" y2="561"/>
<line x1="1146" y1="599" x2="1228" y2="586"/>
<line x1="1146" y1="599" x2="1209" y2="622"/>
<line x1="1146" y1="599" x2="1125" y2="635"/>
<line x1="1146" y1="599" x2="1051" y2="653"/>
<line x1="1146" y1="599" x2="1041" y2="677"/>
<line x1="1228" y1="586" x2="1125" y2="635"/>
<line x1="1125" y1="635" x2="1166" y2="663"/>
<line x1="1125" y1="635" x2="1178" y2="710"/>
<line x1="1125" y1="635" x2="1232" y2="649"/>
<line x1="1125" y1="635" x2="1261" y2="674"/>
<line x1="1232" y1="649" x2="1261" y2="674"/>
<line x1="1232" y1="649" x2="1178" y2="710"/>
<line x1="1261" y1="674" x2="1252" y2="704"/>
<line x1="1261" y1="674" x2="1178" y2="710"/>
<line x1="1261" y1="674" x2="1166" y2="663"/>
<line x1="1166" y1="663" x2="1178" y2="710"/>
<line x1="1112" y1="666" x2="1178" y2="710"/>
<line x1="1041" y1="701" x2="1088" y2="727"/>
<line x1="1041" y1="701" x2="1041" y2="677"/>
<line x1="1041" y1="701" x2="1178" y2="710"/>
<line x1="1010" y1="652" x2="1041" y2="677"/>
<line x1="1051" y1="653" x2="1041" y2="677"/>
<line x1="1051" y1="653" x2="1041" y2="701"/>
<line x1="998" y1="722" x2="1006" y2="748"/>
<line x1="1068" y1="753" x2="1024" y2="771"/>
<line x1="1041" y1="677" x2="1006" y2="748"/>
<line x1="970" y1="708" x2="998" y2="722"/>
<line x1="970" y1="708" x2="1006" y2="748"/>
</g>
<g id="nodes-c4" class="t4">
<g id="c4-01" transform="translate(964,517)"><use href="#s10"/><text x="7" y="4">恭喜</text></g>
<g id="c4-02" transform="translate(883,533)"><use href="#s10"/><text x="7" y="4">打假</text></g>
<g id="c4-03" transform="translate(946,551)"><use href="#s10"/><text x="7" y="4">营销</text></g>
<g id="c4-04" transform="translate(988,551)"><use href="#s10"/><text x="7" y="4">央视</text></g>
<g id="c4-05" transform="translate(841,556)"><use href="#s10"/><text x="7" y="4">可信度</text></g>
<g id="c4-06" transform="translate(882,568)"><use href="#s10"/><text x="7" y="4">王海</text></g>
<g id="c4-07" transform="translate(969,584)"><use href="#s10"/><text x="7" y="4">辛有志</text></g>
<g id="c4-08" transform="translate(900,596)"><use href="#s10"/><text x="7" y="4">欺骗</text></g>
<g id="c4-09" transform="translate(935,609)"><use href="#s10"/><text x="7" y="4">家人</text></g>
<g id="c4-10" transform="translate(760,627)"><use href="#s10"/><text x="7" y="4">欺诈</text></g>
<g id="c4-11" transform="translate(823,632)"><use href="#s10"/><text x="7" y="4">检测</text></g>
<g id="c4-12" transform="translate(898,642)"><use href="#s10"/><text x="7" y="4">消费者</text></g>
<g id="c4-13" transform="translate(944,638)"><use href="#s10"/><text x="7" y="4">不敢</text></g>
<g id="c4-14" transform="translate(974,647)"><use href="#s10"/><text x="7" y="4">天天</text></g>
<g id="c4-15" transform="translate(760,649)"><use href="#s10"/><text x="7" y="4">倾家荡产</text></g>
<g id="c4-16" transform="translate(731,665)"><use href="#s10"/><text x="7" y="4">媒体</text></g>
<g id="c4-17" transform="translate(953,672)"><use href="#s10"/><text x="7" y="4">到底</text></g>
<g id="c4-18" transform="translate(778,681)"><use href="#s10"/><text x="7" y="4">便宜</text></g>
<g id="c4-19" transform="translate(884,686)"><use href="#s10"/><text x="7" y="4">燕窝</text></g>
<g id="c4-20" transform="translate(733,693)"><use href="#s10"/><text x="7" y="4">智商</text></g>
<g id="c4-21" transform="translate(908,708)"><use href="#s10"/><text x="7" y="4">人家</text></g>
<g id="c4-22" transform="translate(970,708)"><use href="#s10"/><text x="7" y="4">直播</text></g>
<g id="c4-23" transform="translate(745,720)"><use href="#s10"/><text x="7" y="4">月饼</text></g>
<g id="c4-24" transform="translate(812,729)"><use href="#s10"/><text x="7" y="4">饮料</text></g>
<g id="c4-25" transform="translate(763,740)"><use href="#s10"/><text x="7" y="4">问题</text></g>
<g id="c4-26" transform="translate(858,746)"><use href="#s10"/><text x="7" y="4">厂家</text></g>
<g id="c4-27" transform="translate(724,762)"><use href="#s10"/><text x="7" y="4">有问题</text></g>
<g id="c4-28" transform="translate(796,761)"><use href="#s10"/><text x="7" y="4">诈骗</text></g>
<g id="c4-29" transform="translate(833,774)"><use href="#s10"/><text x="7" y="4">风味</text></g>
<g id="c4-30" transform="translate(859,794)"><use href="#s10"/><text x="7" y="4">故意</text></g>
<g id="c4-31" transform="translate(894,796)"><use href="#s10"/><text x="7" y="4">关系</text></g>
<g id="c4-32" transform="translate(1043,508)"><use href="#s10"/><text x="7" y="4">抹黑</text></g>
<g id="c4-33" transform="translate(1010,528)"><use href="#s10"/><text x="7" y="4">良心</text></g>
<g id="c4-34" transform="translate(1050,542)"><use href="#s10"/><text x="7" y="4">维权</text></g>
<g id="c4-35" transform="translate(1054,579)"><use href="#s10"/><text x="7" y="4">相信</text></g>
<g id="c4-36" transform="translate(1118,567)"><use href="#s10"/><text x="7" y="4">必须</text></g>
<g id="c4-37" transform="translate(1162,561)"><use href="#s10"/><text x="7" y="4">赶紧</text></g>
<g id="c4-38" transform="translate(1212,561)"><use href="#s10"/><text x="7" y="4">能量</text></g>
<g id="c4-39" transform="translate(1228,586)"><use href="#s10"/><text x="7" y="4">仓鼠</text></g>
<g id="c4-40" transform="translate(1146,599)"><use href="#s10"/><text x="7" y="4">封杀</text></g>
<g id="c4-41" transform="translate(1014,619)"><use href="#s10"/><text x="7" y="4">辛巴</text></g>
<g id="c4-42" transform="translate(1209,622)"><use href="#s10"/><text x="7" y="4">巴子</text></g>
<g id="c4-43" transform="translate(1125,635)"><use href="#s10"/><text x="7" y="4">骗子</text></g>
<g id="c4-44" transform="translate(1010,652)"><use href="#s10"/><text x="7" y="4">粉丝</text></g>
<g id="c4-45" transform="translate(1051,653)"><use href="#s10"/><text x="7" y="4">平台</text></g>
<g id="c4-46" transform="translate(1232,649)"><use href="#s10"/><text x="7" y="4">团队</text></g>
<g id="c4-47" transform="translate(1112,666)"><use href="#s10"/><text x="7" y="4">法律</text></g>
<g id="c4-48" transform="translate(1166,663)"><use href="#s10"/><text x="7" y="4">严查</text></g>
<g id="c4-49" transform="translate(1261,674)"><use href="#s10"/><text x="7" y="4">保护伞</text></g>
<g id="c4-50" transform="translate(1041,677)"><use href="#s10"/><text x="7" y="4">假货</text></g>
<g id="c4-51" transform="translate(1041,701)"><use href="#s10"/><text x="7" y="4">快手</text></g>
<g id="c4-52" transform="translate(1178,710)"><use href="#s10"/><text x="7" y="4">国家</text></g>
<g id="c4-53" transform="translate(1252,704)"><use href="#s10"/><text x="7" y="4">背后</text></g>
<g id="c4-54" transform="translate(1088,727)"><use href="#s10"/><text x="7" y="4">垃圾</text></g>
<g id="c4-55" transform="translate(998,722)"><use href="#s10"/><text x="7" y="4">虚假</text></g>
<g id="c4-56" transform="translate(1006,748)"><use href="#s10"/><text x="7" y="4">宣传</text></g>
<g id="c4-57" transform="translate(1068,753)"><use href="#s10"/><text x="7" y="4">丧尽天良</text></g>
<g id="c4-58" transform="translate(1024,771)"><use href="#s10"/><text x="7" y="4">售假</text></g>
</g>
<g id="groups-c4" class="g4">
<ellipse class="ring" cx="987" cy="583" rx="95" ry="96"/>
<path class="ring" d="M1085,667 C1085,610 1110,560 1170,542 C1240,525 1302,560 1308,630 C1313,700 1262,748 1200,748 C1170,748 1140,738 1127,723 C1128,760 1100,796 1055,796 C1005,797 985,760 987,730 C990,690 1020,665 1050,662 C1065,661 1078,664 1085,667 Z"/>
<ellipse class="ring" cx="822" cy="719" rx="130" ry="116"/>
<text class="lab" x="932" y="573">Exaggeration</text>
<text class="lab" x="932" y="601">and ridicule</text>
<text class="lab" x="722" y="821">Accusing victims of</text>
<text class="lab" x="722" y="849">selling counterfeits</text>
<text class="lab" x="1081" y="784">Insulting and strongly</text>
<text class="lab" x="1081" y="811">opposing victim</text>
</g>
<text class="ttl" x="974" y="892">Case 4 - Finance</text>

<!-- ================= CASE 5 ================= -->
<g id="edges-c5" class="e5">
<line x1="303" y1="966" x2="296" y2="1039"/>
<line x1="281" y1="994" x2="266" y2="1025"/>
<line x1="281" y1="994" x2="261" y2="1063"/>
<line x1="281" y1="994" x2="304" y2="1131"/>
<line x1="223" y1="989" x2="261" y2="1063"/>
<line x1="214" y1="1025" x2="265" y2="1082"/>
<line x1="266" y1="1025" x2="261" y2="1063"/>
<line x1="266" y1="1025" x2="296" y2="1039"/>
<line x1="296" y1="1039" x2="261" y2="1063"/>
<line x1="296" y1="1039" x2="304" y2="1131"/>
<line x1="341" y1="1029" x2="304" y2="1131"/>
<line x1="341" y1="1029" x2="252" y2="1100"/>
<line x1="172" y1="1036" x2="252" y2="1100"/>
<line x1="214" y1="1055" x2="202" y2="1100"/>
<line x1="261" y1="1063" x2="304" y2="1131"/>
<line x1="261" y1="1063" x2="252" y2="1100"/>
<line x1="265" y1="1082" x2="304" y2="1131"/>
<line x1="265" y1="1082" x2="439" y2="1134"/>
<line x1="358" y1="1048" x2="304" y2="1131"/>
<line x1="349" y1="1076" x2="304" y2="1131"/>
<line x1="349" y1="1076" x2="439" y2="1134"/>
<line x1="110" y1="1086" x2="148" y2="1092"/>
<line x1="110" y1="1086" x2="115" y2="1117"/>
<line x1="148" y1="1092" x2="202" y2="1100"/>
<line x1="202" y1="1100" x2="115" y2="1117"/>
<line x1="202" y1="1100" x2="111" y2="1138"/>
<line x1="202" y1="1100" x2="151" y2="1138"/>
<line x1="202" y1="1100" x2="200" y2="1159"/>
<line x1="202" y1="1100" x2="124" y2="1173"/>
<line x1="202" y1="1100" x2="158" y2="1190"/>
<line x1="202" y1="1100" x2="252" y2="1100"/>
<line x1="202" y1="1100" x2="304" y2="1131"/>
<line x1="111" y1="1138" x2="124" y2="1173"/>
<line x1="111" y1="1138" x2="151" y2="1138"/>
<line x1="124" y1="1173" x2="158" y2="1190"/>
<line x1="200" y1="1159" x2="304" y2="1131"/>
<line x1="200" y1="1159" x2="297" y2="1162"/>
<line x1="252" y1="1100" x2="252" y2="1196"/>
<line x1="252" y1="1100" x2="304" y2="1131"/>
<line x1="252" y1="1100" x2="439" y2="1134"/>
<line x1="304" y1="1131" x2="297" y2="1162"/>
<line x1="304" y1="1131" x2="303" y2="1189"/>
<line x1="304" y1="1131" x2="373" y2="1174"/>
<line x1="304" y1="1131" x2="370" y2="1148"/>
<line x1="304" y1="1131" x2="439" y2="1134"/>
<line x1="304" y1="1131" x2="333" y2="1177"/>
<line x1="304" y1="1131" x2="252" y2="1196"/>
<line x1="297" y1="1162" x2="333" y2="1177"/>
<line x1="373" y1="1174" x2="417" y2="1196"/>
<line x1="373" y1="1174" x2="364" y2="1213"/>
<line x1="373" y1="1174" x2="333" y2="1177"/>
<line x1="373" y1="1174" x2="306" y2="1224"/>
<line x1="373" y1="1174" x2="484" y2="1171"/>
<line x1="373" y1="1174" x2="439" y2="1134"/>
<line x1="373" y1="1174" x2="294" y2="1206"/>
<line x1="100" y1="1209" x2="174" y2="1221"/>
<line x1="122" y1="1238" x2="182" y2="1242"/>
<line x1="257" y1="1250" x2="308" y2="1251"/>
<line x1="366" y1="1248" x2="308" y2="1251"/>
<line x1="252" y1="1196" x2="257" y2="1250"/>
<line x1="252" y1="1196" x2="306" y2="1224"/>
<line x1="294" y1="1206" x2="306" y2="1224"/>
<line x1="306" y1="1224" x2="308" y2="1251"/>
<line x1="487" y1="1054" x2="531" y2="1059"/>
<line x1="419" y1="948" x2="450" y2="984"/>
<line x1="381" y1="969" x2="402" y2="1004"/>
<line x1="450" y1="984" x2="457" y2="1018"/>
<line x1="450" y1="984" x2="402" y2="1004"/>
<line x1="439" y1="1079" x2="439" y2="1134"/>
<line x1="439" y1="1079" x2="151" y2="1138"/>
<line x1="457" y1="1099" x2="439" y2="1134"/>
<line x1="457" y1="1099" x2="304" y2="1131"/>
<line x1="457" y1="1099" x2="484" y2="1171"/>
<line x1="513" y1="1092" x2="439" y2="1134"/>
<line x1="502" y1="1115" x2="439" y2="1134"/>
<line x1="502" y1="1115" x2="504" y2="1158"/>
<line x1="546" y1="1123" x2="439" y2="1134"/>
<line x1="546" y1="1123" x2="581" y2="1137"/>
<line x1="537" y1="1144" x2="439" y2="1134"/>
<line x1="439" y1="1134" x2="504" y2="1158"/>
<line x1="439" y1="1134" x2="559" y2="1159"/>
<line x1="439" y1="1134" x2="484" y2="1171"/>
<line x1="439" y1="1134" x2="573" y2="1181"/>
<line x1="439" y1="1134" x2="473" y2="1197"/>
<line x1="439" y1="1134" x2="592" y2="1197"/>
<line x1="439" y1="1134" x2="417" y2="1196"/>
<line x1="439" y1="1134" x2="370" y2="1148"/>
<line x1="484" y1="1171" x2="473" y2="1197"/>
<line x1="484" y1="1171" x2="534" y2="1233"/>
<line x1="484" y1="1171" x2="569" y2="1221"/>
<line x1="484" y1="1171" x2="573" y2="1181"/>
<line x1="504" y1="1158" x2="484" y2="1171"/>
<line x1="504" y1="1158" x2="373" y2="1174"/>
</g>
<g id="nodes-c5" class="t5">
<g id="c5-01" transform="translate(303,966)"><use href="#s10"/><text x="7" y="4">发挥</text></g>
<g id="c5-02" transform="translate(223,989)"><use href="#s10"/><text x="7" y="4">脑子</text></g>
<g id="c5-03" transform="translate(281,994)"><use href="#s10"/><text x="7" y="4">拍子</text></g>
<g id="c5-04" transform="translate(214,1025)"><use href="#s10"/><text x="7" y="4">心理</text></g>
<g id="c5-05" transform="translate(266,1025)"><use href="#s10"/><text x="7" y="4">桌子</text></g>
<g id="c5-06" transform="translate(341,1029)"><use href="#s10"/><text x="7" y="4">运动员</text></g>
<g id="c5-07" transform="translate(172,1036)"><use href="#s10"/><text x="7" y="4">犯规</text></g>
<g id="c5-08" transform="translate(296,1039)"><use href="#s10"/><text x="7" y="4">国家</text></g>
<g id="c5-09" transform="translate(214,1055)"><use href="#s10"/><text x="7" y="4">球台</text></g>
<g id="c5-10" transform="translate(261,1063)"><use href="#s10"/><text x="7" y="4">有问题</text></g>
<g id="c5-11" transform="translate(358,1048)"><use href="#s10"/><text x="7" y="4">反正</text></g>
<g id="c5-12" transform="translate(265,1082)"><use href="#s10"/><text x="7" y="4">裁判</text></g>
<g id="c5-13" transform="translate(349,1076)"><use href="#s10"/><text x="7" y="4">问题</text></g>
<g id="c5-14" transform="translate(110,1086)"><use href="#s10"/><text x="7" y="4">奥运会</text></g>
<g id="c5-15" transform="translate(148,1092)"><use href="#s10"/><text x="7" y="4">抗日</text></g>
<g id="c5-16" transform="translate(202,1100)"><use href="#s10"/><text x="7" y="4">怀疑</text></g>
<g id="c5-17" transform="translate(252,1100)"><use href="#s10"/><text x="7" y="4">球拍</text></g>
<g id="c5-18" transform="translate(115,1117)"><use href="#s10"/><text x="7" y="4">精神</text></g>
<g id="c5-19" transform="translate(304,1131)"><use href="#s10"/><text x="7" y="4">日本</text></g>
<g id="c5-20" transform="translate(111,1138)"><use href="#s10"/><text x="7" y="4">打的</text></g>
<g id="c5-21" transform="translate(151,1138)"><use href="#s10"/><text x="7" y="4">小日</text></g>
<g id="c5-22" transform="translate(200,1159)"><use href="#s10"/><text x="7" y="4">被打</text></g>
<g id="c5-23" transform="translate(297,1162)"><use href="#s10"/><text x="7" y="4">鬼子</text></g>
<g id="c5-24" transform="translate(124,1173)"><use href="#s10"/><text x="7" y="4">人生</text></g>
<g id="c5-25" transform="translate(333,1177)"><use href="#s10"/><text x="7" y="4">永远</text></g>
<g id="c5-26" transform="translate(158,1190)"><use href="#s10"/><text x="7" y="4">第二</text></g>
<g id="c5-27" transform="translate(303,1189)"><use href="#s10"/><text x="7" y="4">爸爸</text></g>
<g id="c5-28" transform="translate(252,1196)"><use href="#s10"/><text x="7" y="4">中国队</text></g>
<g id="c5-29" transform="translate(294,1206)"><use href="#s10"/><text x="7" y="4">做人</text></g>
<g id="c5-30" transform="translate(100,1209)"><use href="#s10"/><text x="7" y="4">惨败</text></g>
<g id="c5-31" transform="translate(174,1221)"><use href="#s10"/><text x="7" y="4">惜败</text></g>
<g id="c5-32" transform="translate(306,1224)"><use href="#s10"/><text x="7" y="4">加油</text></g>
<g id="c5-33" transform="translate(122,1238)"><use href="#s10"/><text x="7" y="4">服气</text></g>
<g id="c5-34" transform="translate(182,1242)"><use href="#s10"/><text x="7" y="4">为止</text></g>
<g id="c5-35" transform="translate(257,1250)"><use href="#s10"/><text x="7" y="4">恶心</text></g>
<g id="c5-36" transform="translate(308,1251)"><use href="#s10"/><text x="7" y="4">嚣张</text></g>
<g id="c5-37" transform="translate(419,948)"><use href="#s10"/><text x="7" y="4">好笑</text></g>
<g id="c5-38" transform="translate(381,969)"><use href="#s10"/><text x="7" y="4">笑哈哈</text></g>
<g id="c5-39" transform="translate(450,984)"><use href="#s10"/><text x="7" y="4">致命</text></g>
<g id="c5-40" transform="translate(402,1004)"><use href="#s10"/><text x="7" y="4">好玩</text></g>
<g id="c5-41" transform="translate(457,1018)"><use href="#s10"/><text x="7" y="4">疯了</text></g>
<g id="c5-42" transform="translate(487,1054)"><use href="#s10"/><text x="7" y="4">样子</text></g>
<g id="c5-43" transform="translate(531,1059)"><use href="#s10"/><text x="7" y="4">家人</text></g>
<g id="c5-44" transform="translate(439,1079)"><use href="#s10"/><text x="7" y="4">乒乓</text></g>
<g id="c5-45" transform="translate(457,1099)"><use href="#s10"/><text x="7" y="4">孙颖莎</text></g>
<g id="c5-46" transform="translate(513,1092)"><use href="#s10"/><text x="7" y="4">回去</text></g>
<g id="c5-47" transform="translate(502,1115)"><use href="#s10"/><text x="7" y="4">耳边</text></g>
<g id="c5-48" transform="translate(546,1123)"><use href="#s10"/><text x="7" y="4">骗人</text></g>
<g id="c5-49" transform="translate(439,1134)"><use href="#s10"/><text x="7" y="4">妈妈</text></g>
<g id="c5-50" transform="translate(581,1137)"><use href="#s10"/><text x="7" y="4">话里</text></g>
<g id="c5-51" transform="translate(537,1144)"><use href="#s10"/><text x="7" y="4">告诉</text></g>
<g id="c5-52" transform="translate(370,1148)"><use href="#s10"/><text x="7" y="4">投票</text></g>
<g id="c5-53" transform="translate(504,1158)"><use href="#s10"/><text x="7" y="4">战胜</text></g>
<g id="c5-54" transform="translate(559,1159)"><use href="#s10"/><text x="7" y="4">呜呜</text></g>
<g id="c5-55" transform="translate(484,1171)"><use href="#s10"/><text x="7" y="4">回家</text></g>
<g id="c5-56" transform="translate(373,1174)"><use href="#s10"/><text x="7" y="4">中国</text></g>
<g id="c5-57" transform="translate(573,1181)"><use href="#s10"/><text x="7" y="4">快乐</text></g>
<g id="c5-58" transform="translate(417,1196)"><use href="#s10"/><text x="7" y="4">他妈</text></g>
<g id="c5-59" transform="translate(473,1197)"><use href="#s10"/><text x="7" y="4">实力</text></g>
<g id="c5-60" transform="translate(592,1197)"><use href="#s10"/><text x="7" y="4">吃饭</text></g>
<g id="c5-61" transform="translate(364,1213)"><use href="#s10"/><text x="7" y="4">中国人</text></g>
<g id="c5-62" transform="translate(569,1221)"><use href="#s10"/><text x="7" y="4">废水</text></g>
<g id="c5-63" transform="translate(534,1233)"><use href="#s10"/><text x="7" y="4">赶紧</text></g>
<g id="c5-64" transform="translate(366,1248)"><use href="#s10"/><text x="7" y="4">活该</text></g>
</g>
<g id="groups-c5" class="g5">
<ellipse class="ring" cx="253" cy="1032" rx="90" ry="88"/>
<ellipse class="ring" cx="428" cy="984" rx="66" ry="63"/>
<path class="ring" d="M242,1150 C270,1110 320,1090 362,1100 C410,1115 432,1170 421,1206 C410,1245 370,1265 320,1262 C270,1258 240,1230 230,1203 C200,1225 150,1222 110,1195 C74,1170 70,1120 100,1095 C130,1075 180,1085 210,1110 C225,1125 236,1140 242,1150 Z"/>
<ellipse class="ring" cx="527" cy="1170" rx="95" ry="92"/>
<text class="lab" x="85" y="955">Malicious speculation</text>
<text class="lab" x="85" y="982">about the victim's</text>
<text class="lab" x="85" y="1009">movements</text>
<text class="lab" x="415" y="979">Mocking the</text>
<text class="lab" x="415" y="1006">victim's expressions</text>
<text class="lab" x="168" y="1152">Racial</text>
<text class="lab" x="168" y="1179">Discrimination</text>
<text class="lab" x="427" y="1222">Satirizing</text>
<text class="lab" x="427" y="1249">the victim</text>
</g>
<text class="ttl" x="303" y="1316">Case 5 - Sports</text>

<text class="cap" x="22" y="1378"><tspan font-weight="bold">FIGURE 4</tspan><tspan font-weight="bold" xml:space="preserve">  |  </tspan>Results of text-semantic network analysis.</text>
</svg>
